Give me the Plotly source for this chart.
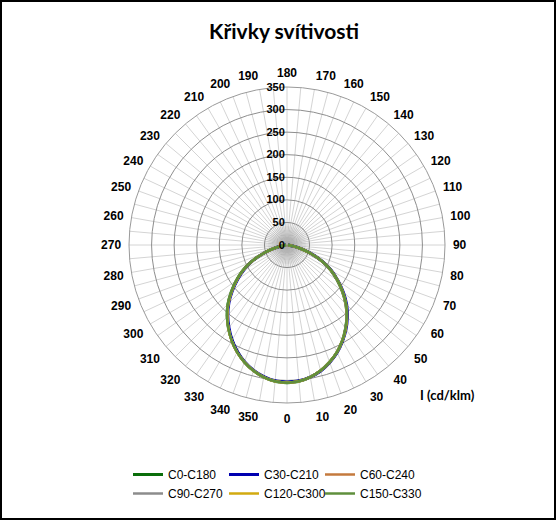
import plotly.graph_objects as go

# Gamma angles (deg) of the C-plane profiles
GAMMA = [0, 5, 10, 15, 20, 25, 30, 35, 40, 45, 50, 55, 60, 65, 70, 75, 80, 85, 90]

# Luminous intensity I (cd/klm)
C0 =   [305, 303, 297, 288, 276, 262, 245, 226, 206, 184, 160, 136, 112, 86, 58, 32, 14, 5, 2]
C180 = [305, 303, 297, 288, 276, 261, 244, 226, 206, 185, 161, 137, 113, 87, 58, 32, 14, 5, 2]
C30 =  [304, 302, 297, 289, 277, 263, 246, 228, 208, 187, 163, 138, 114, 88, 59, 33, 14, 5, 2]
C210 = [304, 302, 296, 287, 275, 260, 243, 224, 204, 182, 158, 134, 110, 85, 57, 31, 13, 5, 2]
C60 =  [305, 303, 297, 288, 276, 262, 245, 226, 206, 184, 161, 137, 112, 86, 58, 32, 14, 5, 2]
C240 = [305, 303, 297, 288, 276, 262, 245, 226, 206, 184, 160, 136, 112, 86, 58, 32, 14, 5, 2]
C90 =  [305, 303, 297, 288, 276, 262, 245, 226, 206, 184, 160, 136, 112, 86, 58, 32, 14, 5, 2]
C270 = [305, 303, 297, 288, 276, 262, 245, 226, 206, 184, 160, 136, 112, 86, 58, 32, 14, 5, 2]
C120 = [305, 303, 297, 288, 276, 262, 245, 227, 207, 185, 161, 137, 113, 87, 58, 32, 14, 5, 2]
C300 = [305, 303, 297, 288, 276, 262, 245, 226, 206, 184, 160, 136, 112, 86, 58, 32, 14, 5, 2]
C150 = [305, 303, 297, 288, 276, 262, 245, 226, 206, 185, 161, 137, 113, 87, 58, 32, 14, 5, 2]
C330 = [305, 303, 297, 288, 276, 262, 245, 226, 207, 185, 161, 137, 112, 86, 58, 32, 14, 5, 2]

SERIES = [
    ("C0-C180", C0, C180, "#0a6e0a", 3),
    ("C30-C210", C30, C210, "#0000b0", 3),
    ("C60-C240", C60, C240, "#c47a3e", 2.5),
    ("C90-C270", C90, C270, "#8c8c8c", 2.5),
    ("C120-C300", C120, C300, "#d2aa10", 2.5),
    ("C150-C330", C150, C330, "#5f8f3c", 2.5),
]

RADIAL_TICKS = [0, 50, 100, 150, 200, 250, 300, 350]
ANGLE_TICKS = list(range(0, 360, 5))
ANGLE_TEXT = [str(a) if a % 10 == 0 else "" for a in ANGLE_TICKS]

fig = go.Figure()

# soft grey shading around the pole
ring_theta = list(range(0, 361, 5))
for rr in [50, 42, 34, 26, 18, 10]:
    fig.add_trace(go.Scatterpolar(
        r=[rr] * len(ring_theta), theta=ring_theta, mode="lines",
        line=dict(width=0, color="rgba(0,0,0,0)"), fill="toself",
        fillcolor="rgba(0,0,0,0.03)", showlegend=False, hoverinfo="skip"))

LEGENDS = ["legend", "legend2", "legend3"]
for i, (name, plane, opp, color, width) in enumerate(SERIES):
    theta = [360 - g for g in reversed(GAMMA)] + GAMMA
    r = list(reversed(opp)) + plane
    fig.add_trace(go.Scatterpolar(
        r=r, theta=theta, mode="lines", name=name,
        line=dict(color=color, width=width, shape="spline"),
        legend=LEGENDS[i % 3]))

bold = dict(family="Liberation Sans, Arial, sans-serif", size=11, color="#000", weight="bold")
abold = dict(family="Liberation Sans, Arial, sans-serif", size=12, color="#000", weight="bold")
legfont = dict(family="Liberation Sans, Arial, sans-serif", size=12, color="#000")


def leg(xpx):
    return dict(orientation="v", x=xpx / 557, xanchor="left", y=1 - 460 / 521, yanchor="top",
                itemwidth=30, font=legfont, bgcolor="rgba(0,0,0,0)", tracegroupgap=0)


fig.update_layout(
    width=557, height=521,
    margin=dict(l=0, r=0, t=0, b=0),
    paper_bgcolor="white",
    title=dict(text="Křivky svítivosti", x=0.51, xanchor="center", y=1 - 32 / 521, yanchor="middle",
               font=dict(family="Lato, sans-serif", size=21, color="#000", weight="bold")),
    polar=dict(
        domain=dict(x=[129 / 557, 445 / 557], y=[118 / 521, 434 / 521]),
        bgcolor="white",
        angularaxis=dict(rotation=270, direction="counterclockwise",
                         tickmode="array", tickvals=ANGLE_TICKS, ticktext=ANGLE_TEXT,
                         gridcolor="#d4d4d4", gridwidth=1, showline=True,
                         linecolor="#9a9a9a", linewidth=1,
                         ticks="outside", ticklen=5, tickcolor="rgba(0,0,0,0)",
                         tickfont=abold),
        radialaxis=dict(range=[0, 350], tickmode="array", tickvals=RADIAL_TICKS,
                        angle=90, tickangle=90, side="counterclockwise", showline=False, ticks="",
                        gridcolor="#8e8e8e", gridwidth=1, tickfont=bold),
    ),
    legend=leg(128),
    legend2=leg(224),
    legend3=leg(320),
    annotations=[dict(text="I (cd/klm)", x=447 / 557, y=1 - 395 / 521, xref="paper", yref="paper",
                      showarrow=False, xanchor="center", yanchor="middle",
                      font=dict(family="Lato, sans-serif", size=13, color="#000", weight="bold"))],
    shapes=[dict(type="rect", xref="paper", yref="paper", x0=1 / 557, x1=1 - 2 / 557,
                 y0=2 / 521, y1=1 - 1 / 521, line=dict(color="#000", width=2))],
)

fig.write_html("out.html")
